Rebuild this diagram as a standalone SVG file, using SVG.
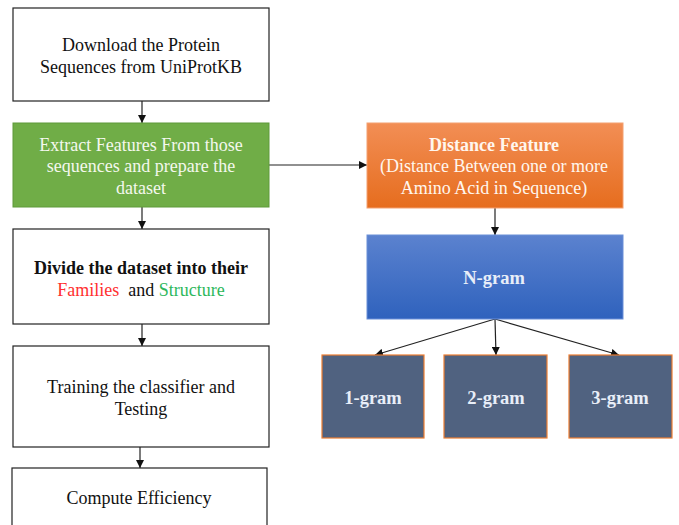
<svg xmlns="http://www.w3.org/2000/svg" width="679" height="525" viewBox="0 0 679 525">
<style>
.t{font-family:"Liberation Serif","Times New Roman",serif;font-size:18px;text-anchor:middle;fill:#111}
.b{font-weight:bold}
.box{fill:#fff;stroke:#222;stroke-width:1.2}
.gram{fill:#506280;stroke:#ED7D31;stroke-width:1.2}
.gt{font-family:"Liberation Serif","Times New Roman",serif;font-size:18.5px;font-weight:bold;text-anchor:middle;fill:#E8EEF8}
.c{stroke:#222;stroke-width:1.2;fill:none;marker-end:url(#ah)}
</style>
<defs>
<marker id="ah" viewBox="0 0 10 10" refX="10" refY="5" markerWidth="8" markerHeight="8" orient="auto" markerUnits="userSpaceOnUse">
<path d="M0,0 L10,5 L0,10 z" fill="#111"/>
</marker>
<linearGradient id="og" x1="0" y1="0" x2="0" y2="1">
<stop offset="0" stop-color="#F28E55"/>
<stop offset="1" stop-color="#E66D1E"/>
</linearGradient>
<linearGradient id="bg" x1="0" y1="0" x2="0" y2="1">
<stop offset="0" stop-color="#5B82CF"/>
<stop offset="1" stop-color="#2F62BD"/>
</linearGradient>
</defs>
<g id="connectors">
<line class="c" x1="142" y1="101" x2="142" y2="123"/>
<line class="c" x1="142" y1="207" x2="142" y2="229"/>
<line class="c" x1="142" y1="324" x2="142" y2="346"/>
<line class="c" x1="140" y1="447" x2="140" y2="468"/>
<line class="c" x1="269" y1="165" x2="367" y2="165"/>
<line class="c" x1="495" y1="208" x2="495" y2="235"/>
<line class="c" x1="495" y1="319" x2="375" y2="355"/>
<line class="c" x1="495" y1="319" x2="496" y2="355"/>
<line class="c" x1="495" y1="319" x2="619" y2="355"/>
</g>
<g id="download">
<rect class="box" x="13" y="8" width="256" height="93"/>
<text class="t" x="141" y="51">Download the Protein</text>
<text class="t" x="141" y="73">Sequences from UniProtKB</text>
</g>
<g id="extract">
<rect x="13" y="123" width="256" height="84" fill="#70AD47" stroke="#5E9A3A" stroke-width="1"/>
<text class="t" x="141" y="151" style="fill:#F4F8EE">Extract Features From those</text>
<text class="t" x="141" y="172" style="fill:#F4F8EE">sequences and prepare the</text>
<text class="t" x="141" y="194" style="fill:#F4F8EE">dataset</text>
</g>
<g id="divide">
<rect class="box" x="13" y="229" width="256" height="95"/>
<text class="t b" x="141" y="274">Divide the dataset into their</text>
<text class="t" x="141" y="296"><tspan fill="#FF3030">Families</tspan>&#160; and <tspan fill="#2EB85C">Structure</tspan></text>
</g>
<g id="training">
<rect class="box" x="13" y="346" width="256" height="101"/>
<text class="t" x="141" y="393">Training the classifier and</text>
<text class="t" x="141" y="415">Testing</text>
</g>
<g id="compute">
<rect class="box" x="12" y="468" width="255" height="70"/>
<text class="t" x="139" y="504">Compute Efficiency</text>
</g>
<g id="distance">
<rect x="367" y="123" width="256" height="85" fill="url(#og)" stroke="#F4A070" stroke-width="1"/>
<text class="t b" x="494" y="151" style="fill:#FFF6EE">Distance Feature</text>
<text class="t" x="494" y="172" style="fill:#FFF6EE">(Distance Between one or more</text>
<text class="t" x="494" y="194" style="fill:#FFF6EE">Amino Acid in Sequence)</text>
</g>
<g id="ngram">
<rect x="367" y="235" width="256" height="84" fill="url(#bg)" stroke="#6A8FD8" stroke-width="1"/>
<text class="gt" x="494" y="284">N-gram</text>
</g>
<g id="g1">
<rect class="gram" x="322" y="355" width="102" height="83"/>
<text class="gt" x="373" y="404">1-gram</text>
</g>
<g id="g2">
<rect class="gram" x="444" y="355" width="103" height="83"/>
<text class="gt" x="496" y="404">2-gram</text>
</g>
<g id="g3">
<rect class="gram" x="569" y="355" width="103" height="83"/>
<text class="gt" x="620" y="404">3-gram</text>
</g>
</svg>
